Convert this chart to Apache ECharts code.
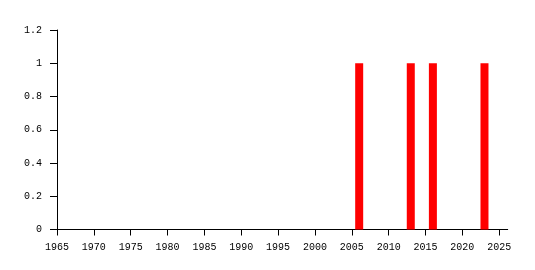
<!DOCTYPE html>
<html>
<head>
<meta charset="utf-8">
<script src="https://cdn.jsdelivr.net/npm/echarts@6/dist/echarts.min.js"></script>
<style>html,body{margin:0;padding:0;background:#fff;}#c{width:535px;height:270px;}</style>
</head>
<body>
<div id="c"></div>
<script>
var years = [2006, 2013, 2016, 2023];
var values = [1, 1, 1, 1];
var xTickLabels = [1965, 1970, 1975, 1980, 1985, 1990, 1995, 2000, 2005, 2010, 2015, 2020, 2025];
var yTickLabels = [0, 0.2, 0.4, 0.6, 0.8, 1, 1.2];

var chart = echarts.init(document.getElementById('c'));
var font = 'Liberation Mono';
chart.setOption({
  animation: false,
  backgroundColor: '#fff',
  grid: { left: 57, right: 27.3, top: 30, bottom: 40.5 },
  xAxis: {
    type: 'value',
    min: 1965,
    max: 2026.15,
    splitLine: { show: false },
    axisLine: { show: true, lineStyle: { color: '#000', width: 1 } },
    axisTick: { show: true, length: 6, lineStyle: { color: '#000' }, customValues: xTickLabels },
    axisLabel: { color: '#000', fontFamily: font, fontSize: 10, margin: 13, customValues: xTickLabels,
      formatter: function (v) { return String(v); } }
  },
  yAxis: {
    type: 'value',
    min: 0,
    max: 1.2,
    interval: 0.2,
    splitLine: { show: false },
    axisLine: { show: true, lineStyle: { color: '#000', width: 1 } },
    axisTick: { show: true, length: 7, lineStyle: { color: '#000' } },
    axisLabel: { color: '#000', fontFamily: font, fontSize: 10, margin: 15,
      formatter: function (v) { return String(Math.round(v * 10) / 10); } }
  },
  series: [{
    type: 'bar',
    barWidth: 8,
    itemStyle: { color: '#ff0000' },
    data: years.map(function (y, i) { return [y, values[i]]; })
  }]
});
</script>
</body>
</html>
